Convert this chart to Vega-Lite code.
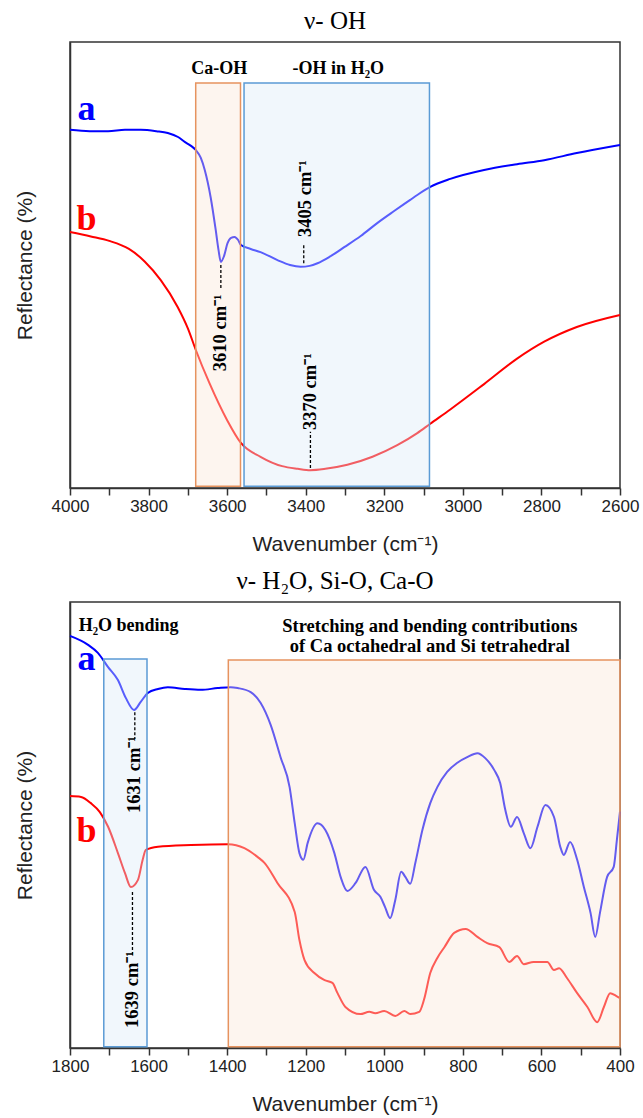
{
  "$schema": "https://vega.github.io/schema/vega-lite/v6.json",
  "padding": {"left": 13, "top": 8, "right": 5, "bottom": 0},
  "background": "white",
  "spacing": 114,
  "bounds": "flush",
  "config": {
    "view": {"stroke": "#333", "strokeWidth": 1.5},
    "axis": {"grid": false, "domainColor": "#333", "domainWidth": 1.5, "tickColor": "#333", "tickWidth": 1.5,
      "labelFont": "Liberation Sans", "labelFontSize": 17, "labelColor": "#222", "labelFlush": false, "labelOverlap": false,
      "titleFont": "Liberation Sans", "titleFontSize": 21, "titleFontWeight": "normal", "titleColor": "#222"},
    "title": {"font": "Liberation Serif", "fontSize": 25, "fontWeight": "normal", "color": "#000", "offset": 8, "dx": -10}
  },
  "vconcat": [
    {
      "width": 550, "height": 446,
      "title": {"text": "ν- OH"},
      "encoding": {
        "x": {"field": "wn", "type": "quantitative", "scale": {"domain": [2600, 4000], "reverse": true, "nice": false, "zero": false},
          "axis": {"title": "Wavenumber (cm⁻¹)", "values": [4000,3900,3800,3700,3600,3500,3400,3300,3200,3100,3000,2900,2800,2700,2600], "format": "d",
            "labelExpr": "datum.value % 200 === 0 ? datum.label : ''", "tickSize": 7, "labelPadding": 3, "titlePadding": 19,
            "encode": {"ticks": {"update": {"y2": {"signal": "datum.value % 200 === 0 ? 7 : 4"}}}}}},
        "y": {"field": "v", "type": "quantitative", "scale": {"domain": [0, 100], "nice": false, "zero": false},
          "axis": {"title": "Reflectance (%)", "labels": false, "ticks": false, "titlePadding": 35}}
      },
      "layer": [
        {
          "data": {"values": [
            {"s":"a","wn":4000,"v":80.3},{"s":"a","wn":3950,"v":80.0},{"s":"a","wn":3903,"v":80.0},{"s":"a","wn":3860,"v":80.3},{"s":"a","wn":3820,"v":80.3},{"s":"a","wn":3780,"v":80.0},{"s":"a","wn":3751,"v":79.6},{"s":"a","wn":3725,"v":78.7},{"s":"a","wn":3708,"v":77.6},{"s":"a","wn":3692,"v":76.7},{"s":"a","wn":3680,"v":75.8},{"s":"a","wn":3667,"v":74.0},{"s":"a","wn":3657,"v":71.3},{"s":"a","wn":3642,"v":65.2},{"s":"a","wn":3629,"v":57.8},{"s":"a","wn":3622,"v":53.4},{"s":"a","wn":3616,"v":50.7},{"s":"a","wn":3608,"v":52.0},{"s":"a","wn":3599,"v":54.9},{"s":"a","wn":3590,"v":56.1},{"s":"a","wn":3581,"v":56.3},{"s":"a","wn":3572,"v":55.6},{"s":"a","wn":3565,"v":54.5},{"s":"a","wn":3540,"v":53.6},{"s":"a","wn":3515,"v":52.9},{"s":"a","wn":3472,"v":51.1},{"s":"a","wn":3440,"v":50.0},{"s":"a","wn":3413,"v":49.6},{"s":"a","wn":3390,"v":49.8},{"s":"a","wn":3370,"v":50.4},{"s":"a","wn":3340,"v":51.8},{"s":"a","wn":3302,"v":54.0},{"s":"a","wn":3260,"v":56.5},{"s":"a","wn":3218,"v":59.4},{"s":"a","wn":3175,"v":62.1},{"s":"a","wn":3134,"v":64.6},{"s":"a","wn":3116,"v":65.7},{"s":"a","wn":3083,"v":67.5},{"s":"a","wn":3032,"v":69.3},{"s":"a","wn":2946,"v":71.3},{"s":"a","wn":2862,"v":72.6},{"s":"a","wn":2793,"v":73.5},{"s":"a","wn":2710,"v":75.1},{"s":"a","wn":2600,"v":76.9},
            {"s":"b","wn":4000,"v":57.4},{"s":"b","wn":3947,"v":56.4},{"s":"b","wn":3900,"v":55.4},{"s":"b","wn":3850,"v":53.6},{"s":"b","wn":3810,"v":50.8},{"s":"b","wn":3769,"v":46.6},{"s":"b","wn":3726,"v":40.6},{"s":"b","wn":3700,"v":35.8},{"s":"b","wn":3680,"v":31.0},{"s":"b","wn":3645,"v":23.5},{"s":"b","wn":3600,"v":15.2},{"s":"b","wn":3565,"v":10.1},{"s":"b","wn":3515,"v":7.0},{"s":"b","wn":3460,"v":4.9},{"s":"b","wn":3420,"v":4.3},{"s":"b","wn":3388,"v":4.0},{"s":"b","wn":3350,"v":4.3},{"s":"b","wn":3294,"v":5.2},{"s":"b","wn":3230,"v":7.0},{"s":"b","wn":3167,"v":9.6},{"s":"b","wn":3116,"v":12.3},{"s":"b","wn":3083,"v":14.4},{"s":"b","wn":3032,"v":17.6},{"s":"b","wn":2946,"v":23.3},{"s":"b","wn":2862,"v":29.0},{"s":"b","wn":2793,"v":32.8},{"s":"b","wn":2710,"v":36.1},{"s":"b","wn":2600,"v":38.8}
          ]},
          "mark": {"type": "line", "interpolate": "monotone", "strokeWidth": 2},
          "encoding": {"color": {"field": "s", "type": "nominal", "scale": {"domain": ["a", "b"], "range": ["#0000FF", "#FF0000"]}, "legend": null}}
        },
        {
          "data": {"values": [{"wn": 3680, "wn2": 3566, "v": 0.4, "v2": 90.8}]},
          "mark": {"type": "rect", "fill": "#FBE5D6", "fillOpacity": 0.4, "stroke": "#E6935F", "strokeWidth": 1.5},
          "encoding": {"x2": {"field": "wn2"}, "y2": {"field": "v2"}}
        },
        {
          "data": {"values": [{"wn": 3557, "wn2": 3085, "v": 0.4, "v2": 90.8}]},
          "mark": {"type": "rect", "fill": "#DDEBF7", "fillOpacity": 0.4, "stroke": "#5B9BD5", "strokeWidth": 1.5},
          "encoding": {"x2": {"field": "wn2"}, "y2": {"field": "v2"}}
        },
        {
          "data": {"values": [{"wn": 3616, "v": 50.0, "v2": 44.8}, {"wn": 3405, "v": 50.4, "v2": 54.9}, {"wn": 3388, "v": 4.5, "v2": 12.6}]},
          "mark": {"type": "rule", "color": "#000", "strokeWidth": 1.3, "strokeDash": [3, 2]},
          "encoding": {"y2": {"field": "v2"}}
        },
        {
          "data": {"values": [{"wn": 3617, "v": 26.2, "label": "3610 cm⁻¹"}, {"wn": 3403, "v": 56.3, "label": "3405 cm⁻¹"}, {"wn": 3390, "v": 13.0, "label": "3370 cm⁻¹"}]},
          "mark": {"type": "text", "angle": 270, "align": "left", "baseline": "middle", "font": "Liberation Serif", "fontWeight": "bold", "fontSize": 18.5, "color": "#000"},
          "encoding": {"text": {"field": "label"}}
        },
        {
          "data": {"values": [{"wn": 3620, "v": 92.8, "label": "Ca-OH"}, {"wn": 3317, "v": 92.8, "label": "-OH in H₂O"}]},
          "mark": {"type": "text", "align": "center", "baseline": "alphabetic", "font": "Liberation Serif", "fontWeight": "bold", "fontSize": 18, "color": "#000"},
          "encoding": {"text": {"field": "label"}}
        },
        {
          "data": {"values": [{"wn": 3958, "v": 82.5, "s": "a"}, {"wn": 3958, "v": 57.8, "s": "b"}]},
          "mark": {"type": "text", "align": "center", "baseline": "alphabetic", "font": "Liberation Serif", "fontWeight": "bold", "fontSize": 36},
          "encoding": {"text": {"field": "s"}, "color": {"field": "s", "type": "nominal", "legend": null}}
        }
      ]
    },
    {
      "width": 550, "height": 446,
      "title": {"text": "ν- H₂O, Si-O, Ca-O"},
      "encoding": {
        "x": {"field": "wn", "type": "quantitative", "scale": {"domain": [400, 1800], "reverse": true, "nice": false, "zero": false},
          "axis": {"title": "Wavenumber (cm⁻¹)", "values": [1800,1700,1600,1500,1400,1300,1200,1100,1000,900,800,700,600,500,400], "format": "d",
            "labelExpr": "datum.value % 200 === 0 ? datum.label : ''", "tickSize": 7, "labelPadding": 3, "titlePadding": 19,
            "encode": {"ticks": {"update": {"y2": {"signal": "datum.value % 200 === 0 ? 7 : 4"}}}}}},
        "y": {"field": "v", "type": "quantitative", "scale": {"domain": [0, 100], "nice": false, "zero": false},
          "axis": {"title": "Reflectance (%)", "labels": false, "ticks": false, "titlePadding": 35}}
      },
      "layer": [
        {
          "data": {"values": [
            {"s":"a","wn":1800,"v":92.4},{"s":"a","wn":1754,"v":90.4},{"s":"a","wn":1729,"v":88.6},{"s":"a","wn":1703,"v":85.4},{"s":"a","wn":1678,"v":82.5},{"s":"a","wn":1658,"v":78.5},{"s":"a","wn":1637,"v":75.8},{"s":"a","wn":1620,"v":77.6},{"s":"a","wn":1602,"v":79.6},{"s":"a","wn":1576,"v":80.5},{"s":"a","wn":1551,"v":80.9},{"s":"a","wn":1508,"v":80.5},{"s":"a","wn":1467,"v":80.3},{"s":"a","wn":1424,"v":80.7},{"s":"a","wn":1391,"v":80.9},{"s":"a","wn":1373,"v":80.7},{"s":"a","wn":1340,"v":79.8},{"s":"a","wn":1315,"v":77.4},{"s":"a","wn":1289,"v":72.4},{"s":"a","wn":1264,"v":65.2},{"s":"a","wn":1241,"v":58.5},{"s":"a","wn":1228,"v":50.4},{"s":"a","wn":1216,"v":43.7},{"s":"a","wn":1206,"v":42.2},{"s":"a","wn":1195,"v":46.0},{"s":"a","wn":1170,"v":50.4},{"s":"a","wn":1150,"v":48.9},{"s":"a","wn":1127,"v":43.7},{"s":"a","wn":1111,"v":38.3},{"s":"a","wn":1094,"v":35.2},{"s":"a","wn":1073,"v":37.0},{"s":"a","wn":1048,"v":40.6},{"s":"a","wn":1026,"v":35.4},{"s":"a","wn":1010,"v":33.9},{"s":"a","wn":998,"v":31.6},{"s":"a","wn":985,"v":29.1},{"s":"a","wn":972,"v":33.2},{"s":"a","wn":957,"v":39.5},{"s":"a","wn":946,"v":38.3},{"s":"a","wn":934,"v":36.8},{"s":"a","wn":921,"v":41.5},{"s":"a","wn":903,"v":48.9},{"s":"a","wn":883,"v":54.9},{"s":"a","wn":865,"v":58.5},{"s":"a","wn":840,"v":61.9},{"s":"a","wn":815,"v":63.9},{"s":"a","wn":789,"v":65.2},{"s":"a","wn":763,"v":66.1},{"s":"a","wn":743,"v":65.0},{"s":"a","wn":720,"v":62.3},{"s":"a","wn":705,"v":59.4},{"s":"a","wn":692,"v":53.4},{"s":"a","wn":678,"v":49.6},{"s":"a","wn":662,"v":51.8},{"s":"a","wn":645,"v":48.2},{"s":"a","wn":628,"v":44.8},{"s":"a","wn":610,"v":49.6},{"s":"a","wn":590,"v":54.5},{"s":"a","wn":568,"v":51.8},{"s":"a","wn":552,"v":45.1},{"s":"a","wn":543,"v":43.3},{"s":"a","wn":527,"v":46.2},{"s":"a","wn":509,"v":42.2},{"s":"a","wn":492,"v":36.1},{"s":"a","wn":475,"v":30.3},{"s":"a","wn":463,"v":24.9},{"s":"a","wn":451,"v":30.3},{"s":"a","wn":433,"v":38.3},{"s":"a","wn":416,"v":40.6},{"s":"a","wn":408,"v":46.6},{"s":"a","wn":400,"v":53.0},
            {"s":"b","wn":1800,"v":56.5},{"s":"b","wn":1772,"v":56.3},{"s":"b","wn":1747,"v":54.9},{"s":"b","wn":1724,"v":52.9},{"s":"b","wn":1703,"v":49.6},{"s":"b","wn":1678,"v":43.7},{"s":"b","wn":1660,"v":39.2},{"s":"b","wn":1645,"v":36.1},{"s":"b","wn":1627,"v":37.7},{"s":"b","wn":1615,"v":42.2},{"s":"b","wn":1607,"v":44.4},{"s":"b","wn":1576,"v":45.1},{"s":"b","wn":1492,"v":45.5},{"s":"b","wn":1398,"v":45.7},{"s":"b","wn":1356,"v":44.8},{"s":"b","wn":1322,"v":42.8},{"s":"b","wn":1305,"v":41.5},{"s":"b","wn":1272,"v":37.0},{"s":"b","wn":1228,"v":30.5},{"s":"b","wn":1216,"v":24.2},{"s":"b","wn":1203,"v":19.7},{"s":"b","wn":1178,"v":16.8},{"s":"b","wn":1152,"v":15.2},{"s":"b","wn":1132,"v":14.6},{"s":"b","wn":1119,"v":12.3},{"s":"b","wn":1099,"v":9.2},{"s":"b","wn":1061,"v":7.6},{"s":"b","wn":1038,"v":8.1},{"s":"b","wn":1023,"v":7.8},{"s":"b","wn":1000,"v":8.3},{"s":"b","wn":972,"v":7.2},{"s":"b","wn":949,"v":8.3},{"s":"b","wn":934,"v":7.6},{"s":"b","wn":911,"v":8.1},{"s":"b","wn":899,"v":10.8},{"s":"b","wn":883,"v":16.8},{"s":"b","wn":865,"v":20.2},{"s":"b","wn":847,"v":22.6},{"s":"b","wn":822,"v":25.8},{"s":"b","wn":793,"v":26.7},{"s":"b","wn":763,"v":24.9},{"s":"b","wn":738,"v":23.5},{"s":"b","wn":707,"v":22.6},{"s":"b","wn":682,"v":19.3},{"s":"b","wn":662,"v":20.6},{"s":"b","wn":645,"v":18.8},{"s":"b","wn":620,"v":19.3},{"s":"b","wn":585,"v":19.3},{"s":"b","wn":568,"v":17.5},{"s":"b","wn":555,"v":17.9},{"s":"b","wn":535,"v":15.7},{"s":"b","wn":509,"v":12.3},{"s":"b","wn":483,"v":9.2},{"s":"b","wn":458,"v":5.8},{"s":"b","wn":441,"v":9.2},{"s":"b","wn":425,"v":12.3},{"s":"b","wn":410,"v":11.7},{"s":"b","wn":400,"v":11.2}
          ]},
          "mark": {"type": "line", "interpolate": "monotone", "strokeWidth": 2},
          "encoding": {"color": {"field": "s", "type": "nominal", "scale": {"domain": ["a", "b"], "range": ["#0000FF", "#FF0000"]}, "legend": null}}
        },
        {
          "data": {"values": [{"wn": 1714, "wn2": 1604, "v": 0.3, "v2": 87.2}]},
          "mark": {"type": "rect", "fill": "#DDEBF7", "fillOpacity": 0.4, "stroke": "#5B9BD5", "strokeWidth": 1.5},
          "encoding": {"x2": {"field": "wn2"}, "y2": {"field": "v2"}}
        },
        {
          "data": {"values": [{"wn": 1397, "wn2": 400, "v": 0.3, "v2": 87.0}]},
          "mark": {"type": "rect", "fill": "#FBE5D6", "fillOpacity": 0.4, "stroke": "#E6935F", "strokeWidth": 1.5},
          "encoding": {"x2": {"field": "wn2"}, "y2": {"field": "v2"}}
        },
        {
          "data": {"values": [{"wn": 1635, "v": 75.3, "v2": 69.3}, {"wn": 1641, "v": 35.0, "v2": 20.9}]},
          "mark": {"type": "rule", "color": "#000", "strokeWidth": 1.3, "strokeDash": [3, 2]},
          "encoding": {"y2": {"field": "v2"}}
        },
        {
          "data": {"values": [{"wn": 1638, "v": 52.7, "label": "1631 cm⁻¹"}, {"wn": 1643, "v": 4.5, "label": "1639 cm⁻¹"}]},
          "mark": {"type": "text", "angle": 270, "align": "left", "baseline": "middle", "font": "Liberation Serif", "fontWeight": "bold", "fontSize": 18.5, "color": "#000"},
          "encoding": {"text": {"field": "label"}}
        },
        {
          "data": {"values": [{"wn": 1778, "v": 93.5, "label": "H₂O bending"}]},
          "mark": {"type": "text", "align": "left", "baseline": "alphabetic", "font": "Liberation Serif", "fontWeight": "bold", "fontSize": 18, "color": "#000"},
          "encoding": {"text": {"field": "label"}}
        },
        {
          "data": {"values": [{"wn": 884, "v": 93.3, "label": "Stretching and bending contributions"}, {"wn": 884, "v": 88.9, "label": "of Ca octahedral and Si tetrahedral"}]},
          "mark": {"type": "text", "align": "center", "baseline": "alphabetic", "font": "Liberation Serif", "fontWeight": "bold", "fontSize": 18.5, "color": "#000"},
          "encoding": {"text": {"field": "label"}}
        },
        {
          "data": {"values": [{"wn": 1758, "v": 84.8, "s": "a"}, {"wn": 1758, "v": 46.3, "s": "b"}]},
          "mark": {"type": "text", "align": "center", "baseline": "alphabetic", "font": "Liberation Serif", "fontWeight": "bold", "fontSize": 36},
          "encoding": {"text": {"field": "s"}, "color": {"field": "s", "type": "nominal", "legend": null}}
        }
      ]
    }
  ]
}
